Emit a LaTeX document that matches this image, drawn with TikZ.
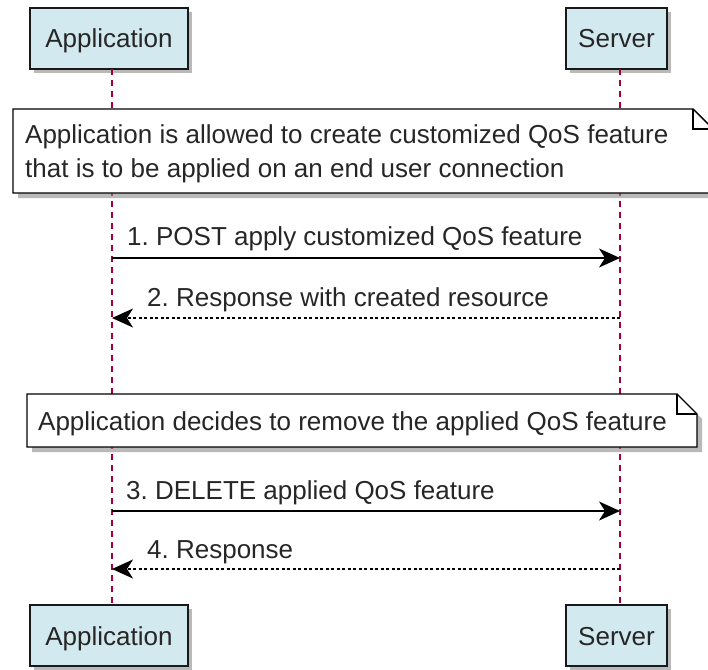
\documentclass[tikz,border=0pt]{standalone}
\usepackage{fontspec}
\setmainfont{Liberation Sans}
\usetikzlibrary{arrows.meta,shadows}
\definecolor{partfill}{HTML}{D2E9EF}
\definecolor{lifeln}{HTML}{A80036}
\definecolor{shadowgrey}{HTML}{8A8A8A}
\frenchspacing
\begin{document}
\begin{tikzpicture}[x=1pt,y=-1pt,
  txt/.style={font=\fontsize{26}{31}\selectfont, inner sep=0pt, text=black!85},
  part/.style={txt, draw=black!90, line width=2pt, fill=partfill,
    minimum height=61pt, text height=24pt, text depth=5pt,
    drop shadow={shadow xshift=4pt, shadow yshift=-4pt, fill=shadowgrey, opacity=0.6}},
  lifeline/.style={draw=lifeln, line width=1.2pt, dash pattern=on 6pt off 5pt},
  msg/.style={draw=black, line width=1.6pt, -{Stealth[length=21pt 0,width=19pt 0,inset=6pt]}},
  reply/.style={msg, dash pattern=on 3pt off 2.5pt},
  noteshape/.style={draw=black, line width=1.4pt, fill=white},
  noteshadow/.style={fill=shadowgrey, opacity=0.6},
  lbl/.style={txt, anchor=base west}
]
\useasboundingbox (0,0) rectangle (708,669);
\clip (0,0) rectangle (708,669);

% participants
\node[part, minimum width=158pt] (appTop) at (109,38.5) {Application};
\node[part, minimum width=101pt] (srvTop) at (616.5,38.5) {Server};
\node[part, minimum width=158pt] (appBot) at (109,635.5) {Application};
\node[part, minimum width=101pt] (srvBot) at (616.5,635.5) {Server};

% lifelines
\coordinate (aL1) at (112,69);
\coordinate (aL2) at (112,604);
\coordinate (sL1) at (620,69);
\coordinate (sL2) at (620,604);
\draw[lifeline] (aL1) -- (aL2);
\draw[lifeline] (sL1) -- (sL2);

% note 1
\fill[noteshadow] (18,114) -- (699,114) -- (718,133) -- (718,198) -- (18,198) -- cycle;
\draw[noteshape] (13,109) -- (693,109) -- (713,129) -- (713,193) -- (13,193) -- cycle;
\draw[line width=1.4pt] (693,109) -- (693,129) -- (713,129);
\node[lbl] (n1a) at (25,143) {Application is allowed to create customized QoS feature};
\node[lbl] (n1b) at (25,177) {that is to be applied on an end user connection};

% messages 1, 2
\coordinate (a1) at (112,258);
\coordinate (s1) at (620,258);
\draw[msg] (a1) -- (s1);
\node[lbl] (m1) at (127,245) {1. POST apply customized QoS feature};
\coordinate (a2) at (112,318);
\coordinate (s2) at (620,318);
\draw[reply] (s2) -- (a2);
\node[lbl] (m2) at (147,306) {2. Response with created resource};

% note 2
\fill[noteshadow] (32,399) -- (682,399) -- (702,419) -- (702,452) -- (32,452) -- cycle;
\draw[noteshape] (27,394) -- (677,394) -- (697,414) -- (697,447) -- (27,447) -- cycle;
\draw[line width=1.4pt] (677,394) -- (677,414) -- (697,414);
\node[lbl] (n2) at (38,430) {Application decides to remove the applied QoS feature};

% messages 3, 4
\coordinate (a3) at (112,511);
\coordinate (s3) at (620,511);
\draw[msg] (a3) -- (s3);
\node[lbl] (m3) at (126,499) {3. DELETE applied QoS feature};
\coordinate (a4) at (112,569);
\coordinate (s4) at (620,569);
\draw[reply] (s4) -- (a4);
\node[lbl] (m4) at (147,558) {4. Response};
\end{tikzpicture}
\end{document}
